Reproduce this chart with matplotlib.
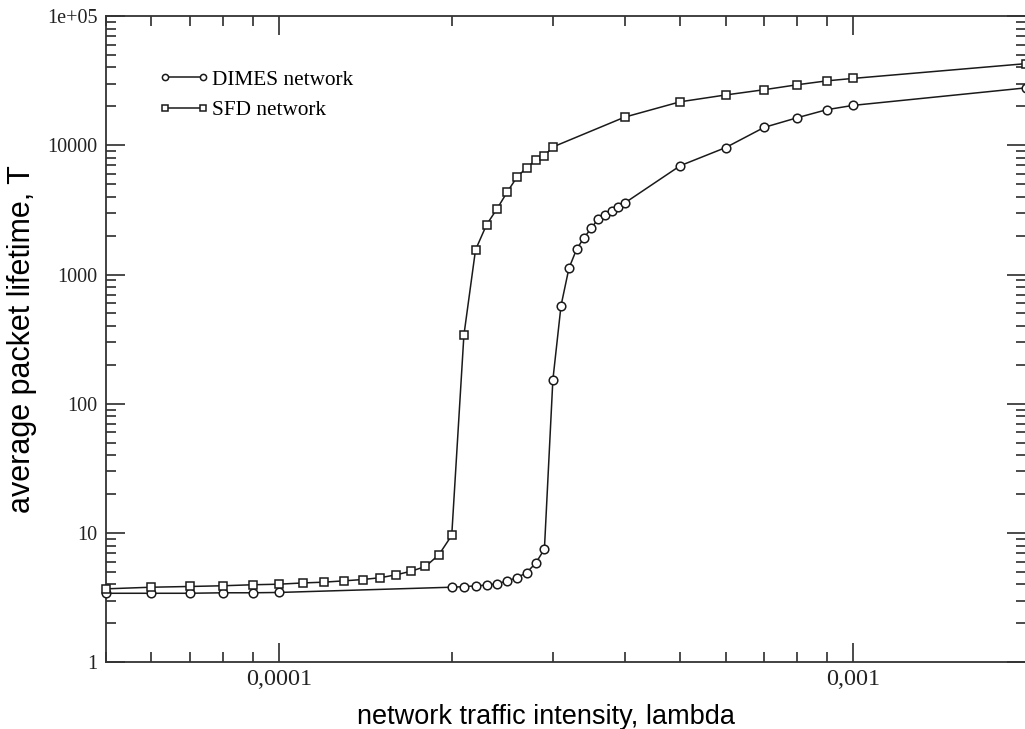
import matplotlib
matplotlib.use("Agg")
import matplotlib.pyplot as plt
from matplotlib.ticker import LogLocator, FixedLocator, FixedFormatter, NullFormatter

# ---- data ----
sfd_x = [5e-5, 6e-5, 7e-5, 8e-5, 9e-5, 1e-4,
         1.1e-4, 1.2e-4, 1.3e-4, 1.4e-4, 1.5e-4, 1.6e-4, 1.7e-4, 1.8e-4, 1.9e-4, 2.0e-4,
         2.1e-4, 2.2e-4, 2.3e-4, 2.4e-4, 2.5e-4, 2.6e-4, 2.7e-4, 2.8e-4, 2.9e-4, 3.0e-4,
         4e-4, 5e-4, 6e-4, 7e-4, 8e-4, 9e-4, 1e-3, 2e-3]
sfd_y = [3.70, 3.81, 3.86, 3.91, 3.98, 4.02,
         4.11, 4.17, 4.27, 4.37, 4.51, 4.75, 5.07, 5.51, 6.8, 9.6,
         340, 1550, 2430, 3240, 4370, 5700, 6700, 7650, 8300, 9700,
         16500, 21700, 24500, 26900, 29400, 31500, 32900, 42800]

dimes_x = [5e-5, 6e-5, 7e-5, 8e-5, 9e-5, 1e-4,
           2.0e-4, 2.1e-4, 2.2e-4, 2.3e-4, 2.4e-4, 2.5e-4, 2.6e-4, 2.7e-4, 2.8e-4, 2.9e-4, 3.0e-4,
           3.1e-4, 3.2e-4, 3.3e-4, 3.4e-4, 3.5e-4, 3.6e-4, 3.7e-4, 3.8e-4, 3.9e-4, 4.0e-4,
           5e-4, 6e-4, 7e-4, 8e-4, 9e-4, 1e-3, 2e-3]
dimes_y = [3.42, 3.42, 3.42, 3.45, 3.45, 3.47,
           3.81, 3.85, 3.90, 3.96, 4.06, 4.26, 4.52, 4.94, 5.84, 7.5, 153,
           575, 1120, 1570, 1930, 2280, 2710, 2890, 3090, 3320, 3570,
           6950, 9600, 13750, 16350, 18850, 20350, 27800]

x_ticks = [1e-4, 1e-3]
x_ticklabels = ["0,0001", "0,001"]
y_ticks = [1, 10, 100, 1000, 10000, 100000]
y_ticklabels = ["1", "10", "100", "1000", "10000", "1e+05"]

series_labels = ["DIMES network", "SFD network"]
x_label = "network traffic intensity, lambda"
y_label = "average packet lifetime, T"

# ---- figure ----
W, H = 1025, 729
fig = plt.figure(figsize=(W / 100, H / 100), dpi=100)
left, right, top, bottom = 106, 1026, 16, 662.3
ax = fig.add_axes([left / W, (H - bottom) / H, (right - left) / W, (bottom - top) / H])

ax.set_xscale("log")
ax.set_yscale("log")
ax.set_xlim(5e-5, 2e-3)
ax.set_ylim(1, 1e5)

col = "#1a1a1a"
l1, = ax.plot(dimes_x, dimes_y, color=col, lw=1.1, marker="o", ms=6.2,
              mfc="white", mec=col, mew=1.1, clip_on=False, zorder=3)
l2, = ax.plot(sfd_x, sfd_y, color=col, lw=1.1, marker="s", ms=5.6,
              mfc="white", mec=col, mew=1.1, clip_on=False, zorder=3)

serif = ["Liberation Serif", "DejaVu Serif"]
sans = ["Liberation Sans", "DejaVu Sans"]

ax.xaxis.set_major_locator(FixedLocator(x_ticks))
ax.xaxis.set_major_formatter(FixedFormatter(x_ticklabels))
ax.xaxis.set_minor_locator(LogLocator(base=10, subs=range(2, 10), numticks=20))
ax.xaxis.set_minor_formatter(NullFormatter())
ax.yaxis.set_major_locator(FixedLocator(y_ticks))
ax.yaxis.set_major_formatter(FixedFormatter(y_ticklabels))
ax.yaxis.set_minor_locator(LogLocator(base=10, subs=range(2, 10), numticks=20))
ax.yaxis.set_minor_formatter(NullFormatter())

ax.tick_params(which="both", direction="in", top=True, right=True, color=col, width=1.1)
ax.tick_params(which="major", length=13.5)
ax.tick_params(which="minor", length=7)
ax.tick_params(axis="x", which="major", labelsize=17.5, pad=5)
ax.tick_params(axis="y", which="major", labelsize=14.5, pad=6)
for lab in ax.get_xticklabels() + ax.get_yticklabels():
    lab.set_family(serif)
    lab.set_color("#222222")

for s in ax.spines.values():
    s.set_linewidth(1.3)
    s.set_color("#333333")

ax.set_xlabel(x_label, family=sans, fontsize=19.5)
ax.xaxis.set_label_coords((546 - left) / (right - left), -(704 - bottom) / (bottom - top))
ax.set_ylabel(y_label, family=sans, fontsize=22, labelpad=7)

leg = ax.legend([l1, l2], series_labels, loc="upper left", bbox_to_anchor=(0.036, 0.946),
                frameon=False, numpoints=2, markerscale=0.72, handlelength=2.4,
                handletextpad=0.15, labelspacing=0.5, prop={"family": serif, "size": 15.3})

fig.savefig("out.png", dpi=100)
